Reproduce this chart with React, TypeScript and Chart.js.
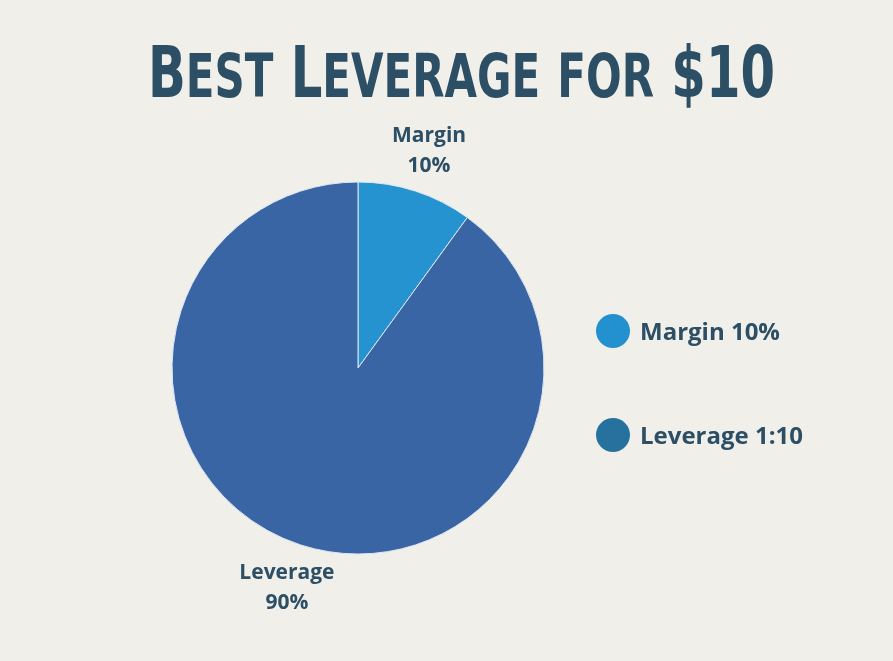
import React, { useEffect, useRef } from "react";
import { Chart, registerables } from "chart.js";

Chart.register(...registerables);

const categories = ["Margin", "Leverage"];
const values = [10, 90];
const sliceColors = ["#2493d0", "#3a65a4"];
const legendLabels = ["Margin 10%", "Leverage 1:10"];
const legendColors = ["#2391cf", "#27719e"];
const titleText = "Best Leverage for $10";

const BG = "#f0efea";
const INK = "#2c4f65";
const TITLE_FONT = '"DejaVu Sans", sans-serif';
const LABEL_FONT = '"Open Sans", "Noto Sans", sans-serif';

const backgroundPlugin = {
  id: "bgAndTitle",
  beforeDraw(chart: any) {
    const ctx = chart.ctx as any;
    ctx.save();
    ctx.fillStyle = BG;
    ctx.fillRect(0, 0, chart.width, chart.height);
    // title in small caps
    const bigFont = `normal normal bold 71px ${TITLE_FONT}`;
    const smallFont = `normal normal bold 60px ${TITLE_FONT}`;
    if ("fontStretch" in ctx) ctx.fontStretch = "condensed";
    const segs: { t: string; f: string; w: number }[] = [];
    for (const ch of titleText) {
      const isLower = ch !== ch.toUpperCase();
      const f = isLower ? smallFont : bigFont;
      const t = ch.toUpperCase();
      ctx.font = f;
      if ("fontStretch" in ctx) ctx.fontStretch = "condensed";
      segs.push({ t, f, w: ctx.measureText(t).width });
    }
    const total = segs.reduce((s, g) => s + g.w, 0);
    const targetW = 627;
    const sx = targetW / total;
    ctx.translate(148, 97);
    ctx.scale(sx, 1);
    ctx.fillStyle = INK;
    ctx.textBaseline = "alphabetic";
    ctx.textAlign = "left";
    let x = 0;
    for (const g of segs) {
      ctx.font = g.f;
      if ("fontStretch" in ctx) ctx.fontStretch = "condensed";
      ctx.fillText(g.t, x, 0);
      x += g.w;
    }
    if ("fontStretch" in ctx) ctx.fontStretch = "normal";
    ctx.restore();
  },
};

const labelsPlugin = {
  id: "sliceLabels",
  afterDatasetsDraw(chart: any) {
    const ctx = chart.ctx as CanvasRenderingContext2D;
    const meta = chart.getDatasetMeta(0);
    ctx.save();
    ctx.fillStyle = INK;
    ctx.font = `700 21px ${LABEL_FONT}`;
    ctx.textAlign = "center";
    ctx.textBaseline = "alphabetic";
    meta.data.forEach((arc: any, i: number) => {
      const p = arc.getProps(["x", "y", "startAngle", "endAngle", "outerRadius"], true);
      const mid = (p.startAngle + p.endAngle) / 2;
      const r = p.outerRadius + 44;
      const cx = p.x + Math.cos(mid) * r;
      const cy = p.y + Math.sin(mid) * r;
      const lines = [categories[i], `${values[i]}%`];
      ctx.fillText(lines[0], cx, cy - 15 + 7.5);
      ctx.fillText(lines[1], cx, cy + 15 + 7.5);
    });
    // legend
    const lx = 613;
    const ly0 = 331;
    const gap = 104;
    ctx.font = `700 24px ${LABEL_FONT}`;
    ctx.textAlign = "left";
    legendLabels.forEach((lab, i) => {
      const y = ly0 + i * gap;
      ctx.beginPath();
      ctx.fillStyle = legendColors[i];
      ctx.arc(lx, y, 17, 0, Math.PI * 2);
      ctx.fill();
      ctx.fillStyle = INK;
      ctx.fillText(lab, lx + 27, y + 8.5);
    });
    ctx.restore();
  },
};

export default function App() {
  const ref = useRef<HTMLCanvasElement | null>(null);
  useEffect(() => {
    if (!ref.current) return;
    const chart = new Chart(ref.current, {
      type: "pie",
      data: {
        labels: categories,
        datasets: [
          {
            data: values,
            backgroundColor: sliceColors,
            borderColor: "#dde8f3",
            borderWidth: 1,
            hoverOffset: 0,
            radius: 186,
          } as any,
        ],
      },
      options: {
        responsive: false,
        animation: false,
        events: [],
        layout: { padding: { left: 150, right: 327, top: 150, bottom: 75 } },
        plugins: {
          legend: { display: false },
          tooltip: { enabled: false },
          title: { display: false },
        },
      },
      plugins: [backgroundPlugin, labelsPlugin],
    });
    return () => chart.destroy();
  }, []);
  return (
    <div style={{ position: "fixed", left: 0, top: 0, width: 893, height: 661, background: BG }}>
      <canvas ref={ref} width={893} height={661} style={{ display: "block", width: 893, height: 661 }} />
    </div>
  );
}
